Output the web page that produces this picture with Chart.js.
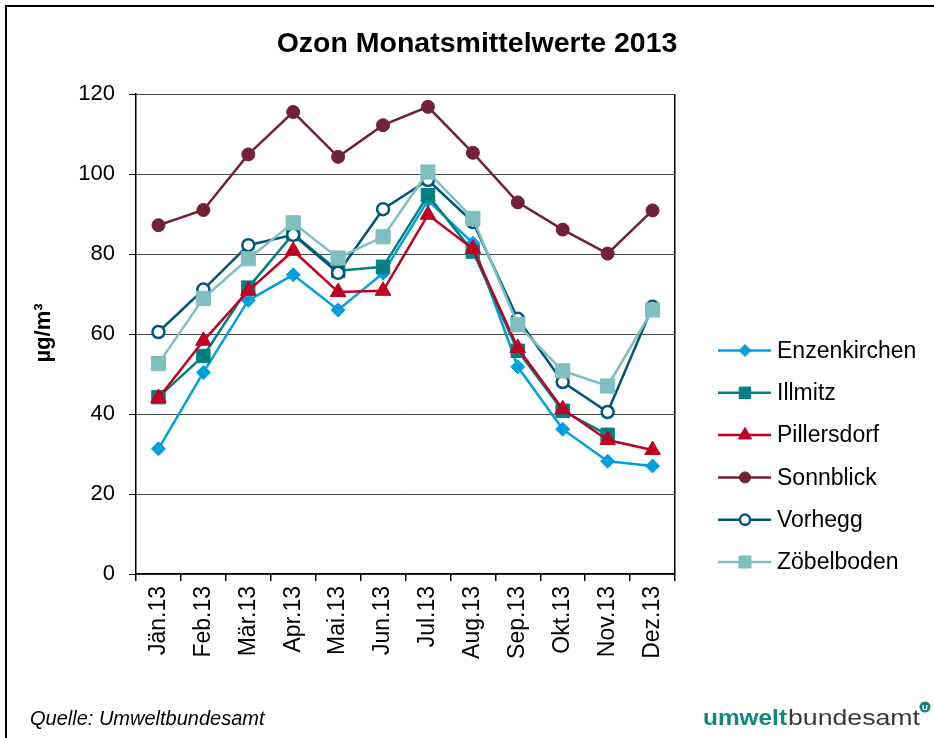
<!DOCTYPE html>
<html>
<head>
<meta charset="utf-8">
<title>Ozon Monatsmittelwerte 2013</title>
<script src="https://cdn.jsdelivr.net/npm/chart.js@4.4.0/dist/chart.umd.min.js"></script>
<style>
  body { margin: 0; background: #fff; }
  canvas { display: block; }
</style>
</head>
<body>
<canvas id="chart" width="934" height="738"></canvas>
<script>
// Monatsmittelwerte Ozon in µg/m³
const months = ['Jän.13', 'Feb.13', 'Mär.13', 'Apr.13', 'Mai.13', 'Jun.13', 'Jul.13', 'Aug.13', 'Sep.13', 'Okt.13', 'Nov.13', 'Dez.13'];
const enzenkirchen = [31.3, 50.4, 68.4, 74.8, 66.0, 75.2, 93.4, 82.7, 51.8, 36.2, 28.2, 27.0];
const illmitz = [44.2, 54.5, 71.6, 85.0, 75.8, 76.8, 94.7, 80.6, 55.8, 40.8, 34.8, null];
const pillersdorf = [44.0, 58.3, 70.8, 80.8, 70.5, 70.8, 89.8, 81.3, 56.5, 41.2, 33.5, 31.0];
const sonnblick = [87.2, 91.0, 104.9, 115.5, 104.3, 112.2, 116.8, 105.3, 92.9, 86.1, 80.1, 90.9];
const vorhegg = [60.5, 71.1, 82.2, 84.8, 75.3, 91.2, 98.5, 88.0, 63.8, 48.0, 40.5, 66.8];
const zoebelboden = [52.6, 68.9, 78.8, 87.8, 79.0, 84.3, 100.5, 88.9, 62.3, 50.8, 47.0, 66.0];

const FONT = 'Arial, "Liberation Sans", sans-serif';

function station(label, data, color, style, radius, order, fill) {
    return {
        label: label,
        data: data,
        borderColor: color,
        backgroundColor: color,
        borderWidth: 2.5,
        pointStyle: style,
        pointRadius: radius,
        pointHoverRadius: radius,
        pointBackgroundColor: fill || color,
        pointBorderColor: color,
        pointBorderWidth: fill ? 2.5 : 1,
        tension: 0,
        order: order
    };
}

const datasets = [
    station('Enzenkirchen', enzenkirchen, '#00A0DC', 'rectRot', 7, 0),
    station('Illmitz', illmitz, '#008080', 'rect', 9.5, -1),
    station('Pillersdorf', pillersdorf, '#C00023', 'triangle', 9, -2),
    station('Sonnblick', sonnblick, '#722235', 'circle', 6.5, -3),
    station('Vorhegg', vorhegg, '#00557F', 'circle', 6, -4, '#ffffff'),
    station('Zöbelboden', zoebelboden, '#80BFBF', 'rect', 10, -5)
];

// frame, title, axis title, legend, footer and logo
const decor = {
    id: 'decor',
    beforeDraw(chart) {
        const ctx = chart.ctx;
        ctx.save();
        ctx.strokeStyle = '#000';
        ctx.lineWidth = 2;
        ctx.strokeRect(6, 6, 1000, 1000);
        ctx.restore();
    },
    afterDraw(chart) {
        const ctx = chart.ctx;
        ctx.save();
        ctx.fillStyle = '#000';

        ctx.font = 'bold 28.5px ' + FONT;
        ctx.textAlign = 'center';
        ctx.textBaseline = 'alphabetic';
        ctx.fillText('Ozon Monatsmittelwerte 2013', 477, 52);

        ctx.save();
        ctx.translate(50, 333);
        ctx.rotate(-Math.PI / 2);
        ctx.font = 'bold 22px ' + FONT;
        ctx.fillText('µg/m³', 0, 0);
        ctx.restore();

        // legend: line with marker, like the spreadsheet legend
        const drawPoint = Chart.helpers && Chart.helpers.drawPoint;
        chart.data.datasets.forEach((ds, i) => {
            const y = 350.5 + i * 42.3;
            ctx.strokeStyle = ds.borderColor;
            ctx.lineWidth = ds.borderWidth;
            ctx.beginPath();
            ctx.moveTo(718, y);
            ctx.lineTo(771, y);
            ctx.stroke();
            if (drawPoint) {
                ctx.fillStyle = ds.pointBackgroundColor;
                ctx.lineWidth = ds.pointBorderWidth;
                drawPoint(ctx, {
                    pointStyle: ds.pointStyle,
                    radius: ds.pointRadius * 0.85,
                    rotation: 0,
                    borderWidth: ds.pointBorderWidth
                }, 745, y);
            }
            ctx.fillStyle = '#000';
            ctx.font = '23px ' + FONT;
            ctx.textAlign = 'left';
            ctx.textBaseline = 'middle';
            ctx.fillText(ds.label, 777, y + 1);
        });

        ctx.textBaseline = 'alphabetic';
        ctx.textAlign = 'left';
        ctx.font = 'italic 20px ' + FONT;
        ctx.fillText('Quelle: Umweltbundesamt', 30, 725);

        // logo text
        ctx.fillStyle = '#12877F';
        ctx.font = 'bold 22px ' + FONT;
        const w1 = ctx.measureText('umwelt').width;
        ctx.save();
        ctx.translate(703, 725);
        ctx.scale(84 / w1, 1);
        ctx.fillText('umwelt', 0, 0);
        ctx.restore();
        ctx.fillStyle = '#3a3a3a';
        ctx.font = '22px ' + FONT;
        const w2 = ctx.measureText('bundesamt').width;
        ctx.save();
        ctx.translate(788, 725);
        ctx.scale(132 / w2, 1);
        ctx.fillText('bundesamt', 0, 0);
        ctx.restore();
        ctx.fillStyle = '#12877F';
        ctx.beginPath();
        ctx.arc(925, 707, 5.5, 0, Math.PI * 2);
        ctx.fill();
        ctx.fillStyle = '#fff';
        ctx.font = 'bold 8px ' + FONT;
        ctx.textAlign = 'center';
        ctx.textBaseline = 'middle';
        ctx.fillText('U', 925, 707.5);
        ctx.restore();
    }
};

new Chart(document.getElementById('chart'), {
    type: 'line',
    data: {
        labels: months,
        datasets: datasets
    },
    options: {
        responsive: false,
        animation: false,
        layout: {
            padding: { top: 94, right: 259, bottom: 0, left: 0 }
        },
        plugins: {
            legend: { display: false },
            title: { display: false },
            tooltip: { enabled: false }
        },
        scales: {
            x: {
                offset: true,
                grid: {
                    offset: true,
                    color: c => c.type === 'tick' ? 'rgba(0,0,0,0)' : '#000',
                    tickColor: '#000',
                    tickLength: 7,
                    lineWidth: 1.5
                },
                border: { color: '#000', width: 1.5 },
                ticks: {
                    color: '#000',
                    font: { family: FONT, size: 23 },
                    minRotation: 90,
                    maxRotation: 90,
                    autoSkip: false,
                    padding: 5
                },
                afterFit: s => { s.height = 164; }
            },
            y: {
                min: 0,
                max: 120,
                grid: {
                    color: '#4a4a4a',
                    lineWidth: 1,
                    tickColor: '#000',
                    tickLength: 7
                },
                border: { color: '#000', width: 1.5 },
                ticks: {
                    stepSize: 20,
                    color: '#000',
                    font: { family: FONT, size: 22 },
                    padding: 14
                },
                afterFit: s => { s.width = 136; }
            }
        }
    },
    plugins: [decor]
});
</script>
</body>
</html>
